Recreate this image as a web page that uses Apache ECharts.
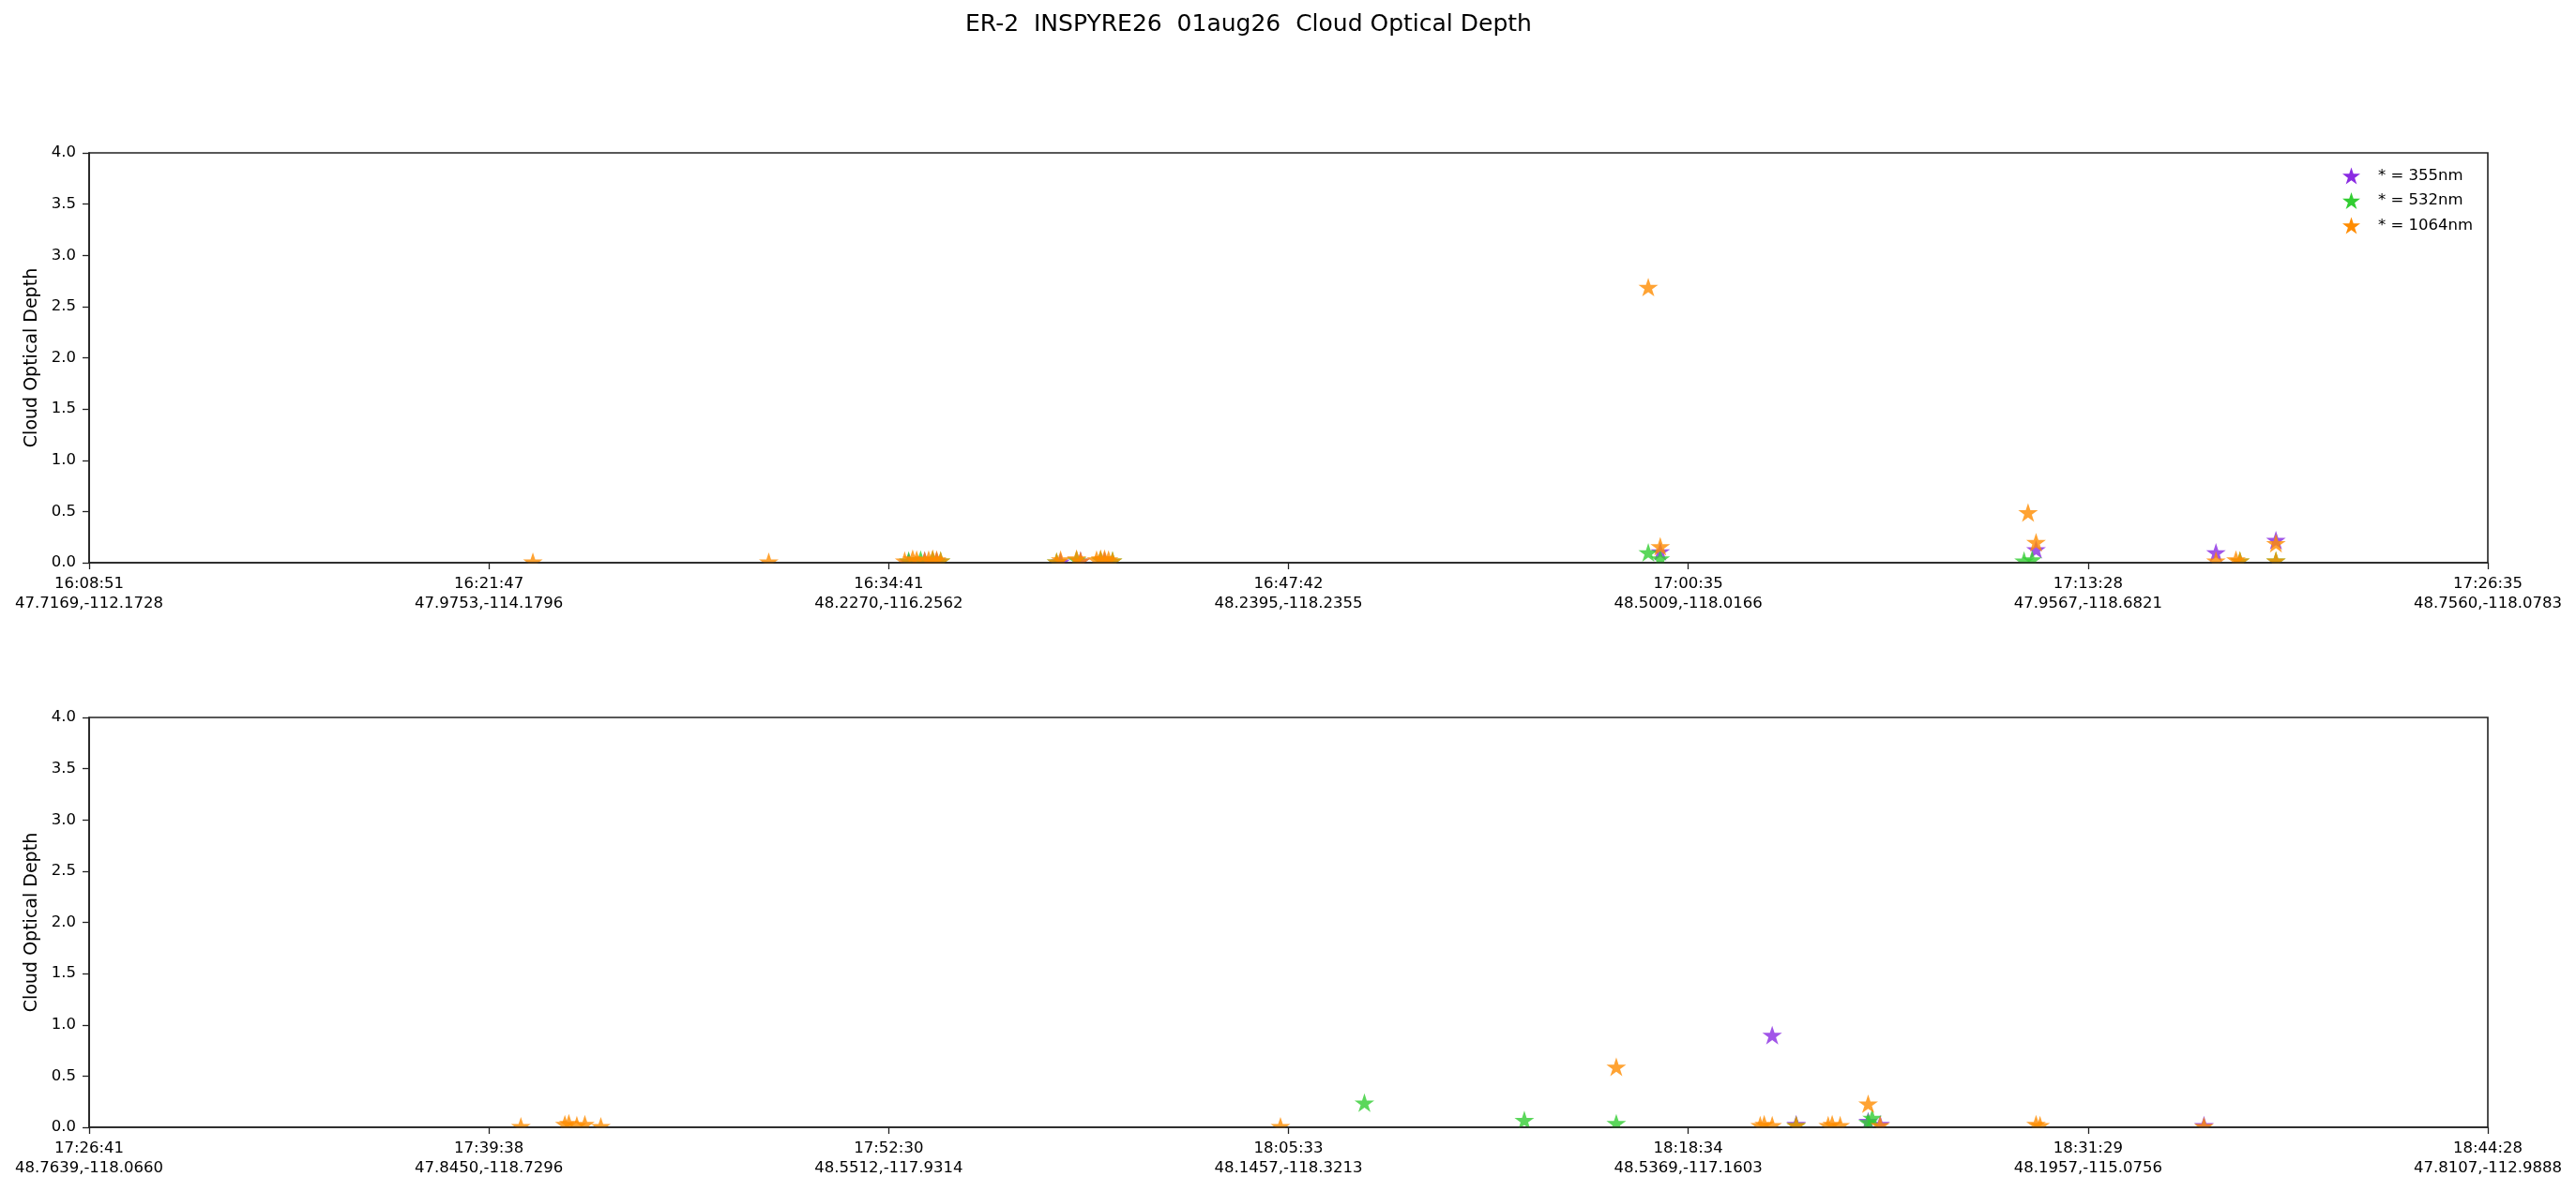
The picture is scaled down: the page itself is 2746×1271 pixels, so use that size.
<!DOCTYPE html>
<html>
<head>
<meta charset="utf-8">
<title>ER-2 INSPYRE26 01aug26 Cloud Optical Depth</title>
<script src="https://cdn.jsdelivr.net/npm/echarts@6/dist/echarts.min.js"></script>
<style>
  html, body { margin: 0; padding: 0; background: #fff; }
  #chart { width: 2746px; height: 1271px; }
</style>
</head>
<body>
<div id="chart"></div>
<script>
// tick labels (time + lat,lon), one per tick; x is record position, 100 per tick
var topTicks = ['16:08:51\n47.7169,-112.1728', '16:21:47\n47.9753,-114.1796', '16:34:41\n48.2270,-116.2562',
  '16:47:42\n48.2395,-118.2355', '17:00:35\n48.5009,-118.0166', '17:13:28\n47.9567,-118.6821', '17:26:35\n48.7560,-118.0783'];
var bottomTicks = ['17:26:41\n48.7639,-118.0660', '17:39:38\n47.8450,-118.7296', '17:52:30\n48.5512,-117.9314',
  '18:05:33\n48.1457,-118.3213', '18:18:34\n48.5369,-117.1603', '18:31:29\n48.1957,-115.0756', '18:44:28\n47.8107,-112.9888'];
var yTicks = [0, 0.5, 1, 1.5, 2, 2.5, 3, 3.5, 4];

var legendNames = ['* = 355nm', '* = 532nm', '* = 1064nm'];

// upper panel
var top355X = [205, 209, 212, 243, 248, 254, 393, 487, 532, 547];
var top355Y = [0.01, 0.02, 0.02, 0.01, 0.02, 0.02, 0.11, 0.13, 0.10, 0.22];
var top532X = [205, 208, 211, 213, 242, 247, 253, 256, 390, 393, 484, 486, 538, 547];
var top532Y = [0.02, 0.03, 0.03, 0.02, 0.01, 0.03, 0.03, 0.02, 0.10, 0.04, 0.02, 0.03, 0.02, 0.02];
var top1064X = [111, 170, 204, 206, 207, 209, 210, 211, 212, 213, 242, 243, 247, 248, 252, 253, 254, 255, 256,
  390, 393, 485, 487, 532, 537, 538, 547, 547];
var top1064Y = [0.01, 0.01, 0.02, 0.04, 0.03, 0.02, 0.03, 0.04, 0.03, 0.02, 0.01, 0.03, 0.04, 0.02, 0.03, 0.04, 0.04, 0.03, 0.02,
  2.69, 0.16, 0.49, 0.20, 0.02, 0.03, 0.02, 0.19, 0.02];

// lower panel
var bottom355X = [421, 427, 445, 448, 529];
var bottom355Y = [0.90, 0.03, 0.06, 0.03, 0.02];
var bottom532X = [319, 359, 382, 446, 445, 427];
var bottom532Y = [0.24, 0.07, 0.04, 0.09, 0.05, 0.02];
var bottom1064X = [108, 119, 120, 122, 124, 128, 298, 382, 418, 419, 421, 427, 435, 436, 438, 445, 448, 487, 488, 529];
var bottom1064Y = [0.01, 0.03, 0.04, 0.02, 0.03, 0.01, 0.01, 0.59, 0.02, 0.03, 0.02, 0.02, 0.02, 0.03, 0.02, 0.23, 0.02, 0.03, 0.02, 0.01];

var colors = ['#8a2be2', '#32cd32', '#ff8c00'];
var star = 'path://M50,0 L61.23,34.55 L97.55,34.55 L68.16,55.9 L79.39,90.45 L50,69.1 L20.61,90.45 L31.84,55.9 L2.45,34.55 L38.77,34.55 Z';
var font = 'DejaVu Sans';

function pairs(xs, ys) {
  return xs.map(function(x, i) {
    return [x, ys[i]];
  });
}

function scatter(name, color, xs, ys, idx) {
  return {
    name: name,
    type: 'scatter',
    xAxisIndex: idx,
    yAxisIndex: idx,
    symbol: star,
    symbolKeepAspect: true,
    symbolSize: 21,
    z: 2,
    itemStyle: { color: color, opacity: 0.8 },
    emphasis: { disabled: true },
    data: pairs(xs, ys)
  };
}

function xAxis(idx, labels) {
  return {
    type: 'value',
    gridIndex: idx,
    min: 0,
    max: 600,
    interval: 100,
    z: 4,
    splitLine: { show: false },
    axisLine: { onZero: false, lineStyle: { color: '#222', width: 1.6 } },
    axisTick: { length: 7, lineStyle: { color: '#222', width: 1.3 } },
    axisLabel: {
      margin: 12,
      fontFamily: font,
      fontSize: 16.5,
      lineHeight: 21,
      color: '#000',
      formatter: function(v) {
        return labels[Math.round(v / 100)];
      }
    }
  };
}

function yAxis(idx) {
  return {
    type: 'value',
    gridIndex: idx,
    min: yTicks[0],
    max: yTicks[yTicks.length - 1],
    interval: 0.5,
    z: 4,
    name: 'Cloud Optical Depth',
    nameLocation: 'middle',
    nameGap: 48,
    nameTextStyle: { fontFamily: font, fontSize: 19, color: '#000' },
    splitLine: { show: false },
    axisLine: { show: true, lineStyle: { color: '#222', width: 1.6 } },
    axisTick: { show: true, length: 7, lineStyle: { color: '#222', width: 1.3 } },
    axisLabel: {
      margin: 14,
      fontFamily: font,
      fontSize: 16.5,
      color: '#000',
      formatter: function(v) {
        return v.toFixed(1);
      }
    }
  };
}

var chart = echarts.init(document.getElementById('chart'), null, { renderer: 'canvas' });

var option = {
  backgroundColor: '#fff',
  animation: false,
  title: {
    text: 'ER-2  INSPYRE26  01aug26  Cloud Optical Depth',
    left: 1024,
    top: 9,
    textStyle: { fontFamily: font, fontSize: 25, fontWeight: 'normal', color: '#000' }
  },
  legend: {
    data: legendNames,
    orient: 'vertical',
    left: 2492,
    top: 173,
    itemWidth: 19,
    itemHeight: 19,
    itemGap: 7.5,
    icon: star,
    itemStyle: { opacity: 1 },
    textStyle: { fontFamily: font, fontSize: 16.5, lineHeight: 19, color: '#000', padding: [0, 0, 0, 14] }
  },
  grid: [
    { left: 95, right: 94, top: 163, height: 437, show: true, borderColor: '#222', borderWidth: 1.6 },
    { left: 95, right: 94, top: 765, height: 437, show: true, borderColor: '#222', borderWidth: 1.6 }
  ],
  xAxis: [xAxis(0, topTicks), xAxis(1, bottomTicks)],
  yAxis: [yAxis(0), yAxis(1)],
  series: [
    scatter(legendNames[0], colors[0], top355X, top355Y, 0),
    scatter(legendNames[1], colors[1], top532X, top532Y, 0),
    scatter(legendNames[2], colors[2], top1064X, top1064Y, 0),
    scatter(legendNames[0], colors[0], bottom355X, bottom355Y, 1),
    scatter(legendNames[1], colors[1], bottom532X, bottom532Y, 1),
    scatter(legendNames[2], colors[2], bottom1064X, bottom1064Y, 1)
  ]
};

chart.setOption(option);

// markers are clipped at the plot frame: mask the strip just below each x axis
var masks = [0, 1].map(function(g) {
  var origin = chart.convertToPixel({ gridIndex: g }, [0, 0]);
  var end = chart.convertToPixel({ gridIndex: g }, [600, 0]);
  return {
    type: 'rect',
    z: 3,
    silent: true,
    shape: { x: origin[0] - 15, y: origin[1] + 1, width: end[0] - origin[0] + 30, height: 14 },
    style: { fill: '#fff' }
  };
});
chart.setOption({ graphic: masks });
</script>
</body>
</html>
